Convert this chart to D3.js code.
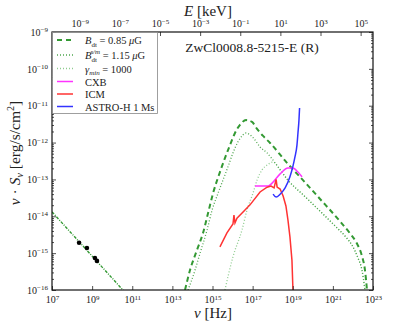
<!DOCTYPE html>
<html>
<head>
<meta charset="utf-8">
<script src="https://cdn.jsdelivr.net/npm/d3@7"></script>
<style>
body{margin:0;background:#fff;}
svg text{font-family:"Liberation Serif","DejaVu Serif",serif;fill:#222;}
</style>
</head>
<body>
<script>
// frequency / flux values, as log10
const logNuRadio = [7, 10.8];
const logFluxRadio = [-13.88, -16.16];

const logNuDashed = [13.63,13.88,14.23,14.53,14.78,15.03,15.37,15.62,15.87,16.12,16.37,16.67,16.97,17.22,17.52,17.87,18.71,19.51,20.36,21.36,21.86,22.20,22.45,22.60,22.70];
const logFluxDashed = [-16.0,-15.46,-14.91,-14.45,-13.91,-13.37,-12.80,-12.42,-12.07,-11.74,-11.52,-11.39,-11.44,-11.63,-11.82,-12.01,-12.55,-13.02,-13.53,-14.14,-14.47,-14.74,-15.08,-15.46,-16.0];

const logNuDot1 = [13.78,14.13,14.38,14.73,14.98,15.28,15.52,15.77,16.02,16.27,16.52,16.67,16.87,17.12,17.37,17.72,18.12,18.76,19.56,20.36,21.16,21.66,21.96,22.25,22.45,22.60];
const logFluxDot1 = [-16.0,-15.46,-15.0,-14.37,-13.83,-13.37,-13.02,-12.66,-12.28,-11.98,-11.79,-11.74,-11.79,-11.93,-12.12,-12.28,-12.55,-13.02,-13.44,-13.86,-14.29,-14.57,-14.79,-15.13,-15.46,-16.0];

const logNuDot2 = [15.62,16.02,16.47,16.72,17.02,17.22,17.47,17.72,18.02,18.37,18.76,19.56,20.36,21.16,21.66,21.96,22.25,22.45,22.60];
const logFluxDot2 = [-16.0,-15.10,-14.37,-13.83,-13.37,-13.02,-12.74,-12.61,-12.53,-12.74,-13.02,-13.44,-13.86,-14.29,-14.57,-14.79,-15.13,-15.46,-16.0];

const logNuIcm = [15.37,15.72,16.02,16.07,16.12,16.22,16.62,16.87,17.37,17.72,17.92,18.07,18.17,18.22,18.37,18.52,18.66,18.76,18.86,18.96,19.01];
const logFluxIcm = [-14.83,-14.45,-14.21,-13.97,-14.18,-14.05,-13.83,-13.69,-13.34,-13.21,-13.18,-13.23,-13.0,-13.21,-13.26,-13.45,-13.72,-14.10,-14.56,-15.19,-16.0];

const logNuCxb = [17.12,17.77,17.97,18.37,18.76,19.01,19.26,19.46];
const logFluxCxb = [-13.18,-13.18,-13.10,-12.85,-12.69,-12.69,-12.80,-12.93];

const logNuAstro = [18.02,18.17,18.37,18.62,18.86,19.01,19.11,19.21,19.26,19.31,19.34];
const logFluxAstro = [-13.40,-13.48,-13.40,-13.23,-12.93,-12.64,-12.39,-12.07,-11.74,-11.39,-11.06];

const logNuObs = [8.35,8.74,9.14,9.24];
const logFluxObs = [-14.72,-14.86,-15.13,-15.21];

const xTickExp = [7,9,11,13,15,17,19,21,23];
const yTickExp = [-16,-15,-14,-13,-12,-11,-10,-9];
const eTickExp = [-9,-7,-5,-3,-1,1,3,5];

const legendLabels = ["B_dt = 0.85 μG", "B_dt^s/m = 1.15 μG", "γ_min = 1000", "CXB", "ICM", "ASTRO-H 1 Ms"];

const W = 415, H = 323;
const L = 52, R = 373, T = 32, B = 290;
const hKeV = 4.135667e-18;

const svg = d3.select("body").append("svg").attr("width", W).attr("height", H);
let xScale, yScale, eScale;

let toPts = (lx, ly) => lx.map((v, i) => [Math.pow(10, v), Math.pow(10, ly[i])]);

let createScales = () => {
    xScale = d3.scaleLog().domain([1e7, 1e23]).range([L, R]);
    yScale = d3.scaleLog().domain([1e-16, 1e-9]).range([B, T]);
    eScale = d3.scaleLog().domain([1e7 * hKeV, 1e23 * hKeV]).range([L, R]);
};

let powerLabels = (g, size) => {
    g.selectAll(".tick text").each(function(d){
        const t = d3.select(this);
        const e = Math.round(Math.log10(d));
        t.text(null).style("font-size", size + "px");
        t.append("tspan").text("10");
        t.append("tspan").attr("dy", "-0.5em").style("font-size", (size * 0.7) + "px")
            .text(e < 0 ? "\u2212" + (-e) : e);
    });
};

let createAxis = () => {
    const minor = [];
    yTickExp.slice(0, -1).forEach(e => { for (let k = 2; k < 10; k++) minor.push(k * Math.pow(10, e)); });
    const yMajor = yTickExp.map(e => Math.pow(10, e));

    const gx = svg.append("g").attr("transform", "translate(0," + B + ")")
        .call(d3.axisBottom(xScale).tickValues(xTickExp.map(e => Math.pow(10, e))).tickSize(-4).tickPadding(6));
    powerLabels(gx, 10);

    const ge = svg.append("g").attr("transform", "translate(0," + T + ")")
        .call(d3.axisTop(eScale).tickValues(eTickExp.map(e => Math.pow(10, e))).tickSize(-4).tickPadding(5));
    powerLabels(ge, 10);

    const gy = svg.append("g").attr("transform", "translate(" + L + ",0)")
        .call(d3.axisLeft(yScale).tickValues(yMajor).tickSize(-4).tickPadding(4));
    powerLabels(gy, 10);
    svg.append("g").attr("transform", "translate(" + L + ",0)")
        .call(d3.axisLeft(yScale).tickValues(minor).tickSize(-2).tickFormat(""));
    svg.append("g").attr("transform", "translate(" + R + ",0)")
        .call(d3.axisRight(yScale).tickValues(yMajor).tickSize(-4).tickFormat(""));
    svg.append("g").attr("transform", "translate(" + R + ",0)")
        .call(d3.axisRight(yScale).tickValues(minor).tickSize(-2).tickFormat(""));

    svg.selectAll(".domain").remove();
    svg.selectAll(".tick line").attr("stroke", "#222").attr("stroke-width", 0.8);
    svg.selectAll(".tick text").attr("fill", "#222");

    svg.append("rect").attr("x", L).attr("y", T).attr("width", R - L).attr("height", B - T)
        .attr("fill", "none").attr("stroke", "#111").attr("stroke-width", 1.2);
};

let plotData = () => {
    svg.append("clipPath").attr("id", "clip").append("rect")
        .attr("x", L).attr("y", T).attr("width", R - L).attr("height", B - T);
    const plot = svg.append("g").attr("clip-path", "url(#clip)");
    const smooth = d3.line().x(d => xScale(d[0])).y(d => yScale(d[1])).curve(d3.curveMonotoneX);
    const straight = d3.line().x(d => xScale(d[0])).y(d => yScale(d[1]));

    // radio part is shared by the three models
    plot.append("path").attr("d", straight(toPts(logNuRadio, logFluxRadio))).attr("fill", "none")
        .attr("stroke", "#339933").attr("stroke-width", 1.4).attr("stroke-dasharray", "3,1.3,1,1.3");

    const styles = [
        {c: "#8fcc8f", w: 1.3, dash: "1,2"},
        {c: "#4fa64f", w: 1.3, dash: "1,2"},
        {c: "#339933", w: 2, dash: "5,3.5"}
    ];
    const ic = [[logNuDot2, logFluxDot2], [logNuDot1, logFluxDot1], [logNuDashed, logFluxDashed]];
    ic.forEach((a, i) => {
        plot.append("path").attr("d", smooth(toPts(a[0], a[1]))).attr("fill", "none")
            .attr("stroke", styles[i].c).attr("stroke-width", styles[i].w)
            .attr("stroke-dasharray", styles[i].dash);
    });

    plot.append("path").attr("d", smooth(toPts(logNuCxb, logFluxCxb))).attr("fill", "none")
        .attr("stroke", "#ff33ff").attr("stroke-width", 1.5);
    plot.append("path").attr("d", straight(toPts(logNuIcm, logFluxIcm))).attr("fill", "none")
        .attr("stroke", "#ff3333").attr("stroke-width", 1.5);
    plot.append("path").attr("d", smooth(toPts(logNuAstro, logFluxAstro))).attr("fill", "none")
        .attr("stroke", "#3333ff").attr("stroke-width", 1.5);

    plot.selectAll("circle").data(toPts(logNuObs, logFluxObs)).enter().append("circle")
        .attr("cx", d => xScale(d[0])).attr("cy", d => yScale(d[1])).attr("r", 2.3).attr("fill", "#000");
};

let createLegend = () => {
    const lg = svg.append("g");
    lg.append("rect").attr("x", L + 0.5).attr("y", T + 0.5).attr("width", 105).attr("height", 81)
        .attr("fill", "#fff").attr("stroke", "#888").attr("stroke-width", 0.8);
    const rowY = [40, 55, 68.5, 81.5, 94, 106.5];
    const keys = [
        {c: "#339933", w: 2, dash: "5,4"},
        {c: "#4fa64f", w: 1.3, dash: "1,2"},
        {c: "#8fcc8f", w: 1.3, dash: "1,2"},
        {c: "#ff33ff", w: 1.5, dash: null},
        {c: "#ff3333", w: 1.5, dash: null},
        {c: "#3333ff", w: 1.5, dash: null}
    ];
    legendLabels.forEach((lab, i) => {
        lg.append("line").attr("x1", 57).attr("x2", 73).attr("y1", rowY[i]).attr("y2", rowY[i])
            .attr("stroke", keys[i].c).attr("stroke-width", keys[i].w)
            .attr("stroke-dasharray", keys[i].dash);
        const t = lg.append("text").attr("x", 85).attr("y", rowY[i] + 4).style("font-size", "10.5px");
        if (i === 0 || i === 1) {
            t.append("tspan").style("font-style", "italic").text("B");
            t.append("tspan").attr("dy", 2.5).style("font-size", "7px").text("dt");
            if (i === 1) t.append("tspan").attr("dx", -6.5).attr("dy", -8).style("font-size", "7px").style("font-style", "italic").text("s/m");
            t.append("tspan").attr("dy", i === 1 ? 5.5 : -2.5).text(i === 0 ? " = 0.85 " : " = 1.15 ");
            t.append("tspan").style("font-style", "italic").text("μ");
            t.append("tspan").text("G");
        } else if (i === 2) {
            t.append("tspan").style("font-style", "italic").text("γ");
            t.append("tspan").attr("dy", 2.5).style("font-size", "7px").style("font-style", "italic").text("min");
            t.append("tspan").attr("dy", -2.5).text(" = 1000");
        } else {
            t.text(lab);
        }
    });
};

let createHeadings = () => {
    svg.append("text").attr("x", 252).attr("y", 52).attr("text-anchor", "middle")
        .style("font-size", "13.5px").text("ZwCl0008.8-5215-E (R)");

    const top = svg.append("text").attr("x", 208).attr("y", 16).attr("text-anchor", "middle").style("font-size", "15px");
    top.append("tspan").style("font-style", "italic").text("E");
    top.append("tspan").text(" [keV]");

    const bot = svg.append("text").attr("x", 213).attr("y", 318).attr("text-anchor", "middle").style("font-size", "15px");
    bot.append("tspan").style("font-style", "italic").text("ν");
    bot.append("tspan").text(" [Hz]");

    const yl = svg.append("text").attr("transform", "translate(20,153) rotate(-90)")
        .attr("text-anchor", "middle").style("font-size", "15.5px");
    yl.append("tspan").style("font-style", "italic").text("ν");
    yl.append("tspan").text(" · ");
    yl.append("tspan").style("font-style", "italic").text("S");
    yl.append("tspan").attr("dy", 3).style("font-size", "10px").style("font-style", "italic").text("ν");
    yl.append("tspan").attr("dy", -3).text(" [erg/s/cm");
    yl.append("tspan").attr("dy", -6).style("font-size", "10px").text("2");
    yl.append("tspan").attr("dy", 6).text("]");
};

createScales();
plotData();
createAxis();
createLegend();
createHeadings();
</script>
</body>
</html>
